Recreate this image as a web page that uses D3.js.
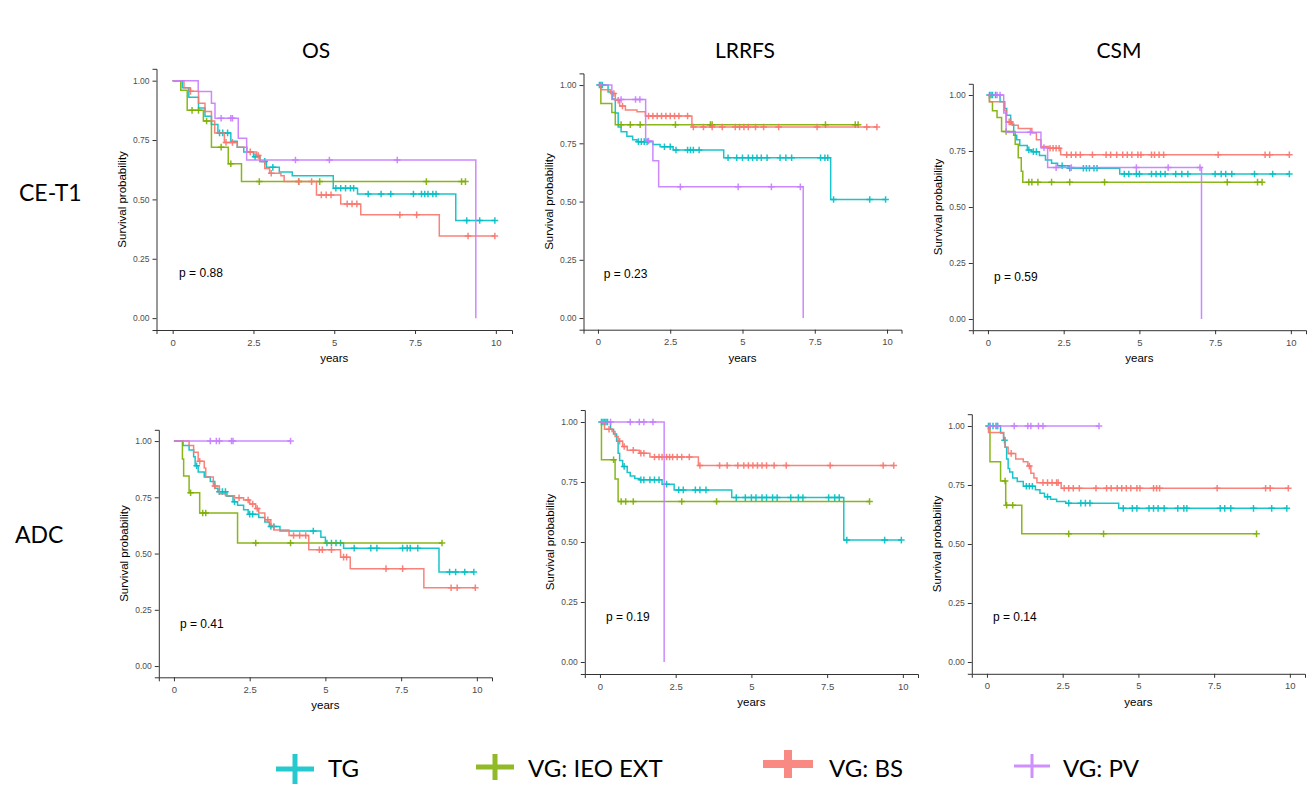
<!DOCTYPE html>
<html>
<head>
  <meta charset="utf-8">
  <title>KM curves</title>
  <script src="https://cdn.jsdelivr.net/npm/d3@7"></script>
  <style>
    body { margin: 0; background: #fff; }
    .tick text { font-family: "Liberation Sans", Arial, sans-serif; fill: #4d4d4d; }
  </style>
</head>
<body>
  <div id="chart"></div>
  <script type="text/javascript">
    var w = 1310;
    var h = 785;

    var groups = ["TG", "VG: IEO EXT", "VG: BS", "VG: PV"];
    var colors = ["#00BFC4", "#7CAE00", "#F8766D", "#C77CFF"];
    var colTitles = ["OS", "LRRFS", "CSM"];
    var rowTitles = ["CE-T1", "ADC"];
    var xTicks = [0, 2.5, 5, 7.5, 10];
    var xTickLabels = ["0", "2.5", "5", "7.5", "10"];
    var yTicks = [0, 0.25, 0.5, 0.75, 1];
    var yTickLabels = ["0.00", "0.25", "0.50", "0.75", "1.00"];
    var pValues = ["p = 0.88", "p = 0.23", "p = 0.59", "p = 0.41", "p = 0.19", "p = 0.14"];

    // steps: [time, survival after drop]; cens: censoring times
    // OS, CE-T1
    var osCeTG = [[0.3,0.97],[0.5,0.93],[0.8,0.885],[1.0,0.85],[1.2,0.815],[1.4,0.78],[1.8,0.745],[2.0,0.72],[2.2,0.70],[2.5,0.68],[2.7,0.66],[2.9,0.635],[3.3,0.615],[3.7,0.6],[4.97,0.547],[5.72,0.523],[8.76,0.411]];
    var osCeTGCens = [1.45,1.55,1.7,2.55,2.85,3.1,5.05,5.2,5.35,5.5,5.6,6.05,6.45,6.75,7.45,7.7,7.8,7.9,8.05,8.15,9.1,9.5,9.97];
    var osCeIeo = [[0.25,0.96],[0.45,0.875],[0.95,0.83],[1.2,0.72],[1.72,0.65],[2.13,0.575]];
    var osCeIeoCens = [0.6,0.8,1.05,1.5,1.8,2.68,3.9,4.55,7.85,8.94,9.06];
    var osCeBs = [[0.35,0.97],[0.55,0.955],[0.8,0.905],[1.0,0.87],[1.2,0.83],[1.3,0.78],[1.6,0.74],[2.0,0.72],[2.3,0.70],[2.6,0.685],[2.7,0.66],[2.85,0.63],[3.0,0.61],[3.35,0.6],[3.45,0.575],[4.45,0.519],[5.2,0.481],[5.82,0.435],[8.25,0.346]];
    var osCeBsCens = [0.55,1.65,1.85,2.4,2.65,3.05,3.9,4.3,4.6,4.75,4.9,5.4,5.55,5.7,7.03,7.55,9.14,9.97];
    var osCePv = [[0.79,0.954],[1.2,0.905],[1.31,0.842],[2.03,0.757],[2.29,0.666],[9.38,0]];
    var osCePvCens = [1.5,1.8,1.85,3.8,4.85,6.95];

    // LRRFS, CE-T1
    var lrCeTG = [[0.35,0.97],[0.5,0.94],[0.6,0.88],[0.7,0.82],[0.8,0.80],[1.0,0.78],[1.2,0.765],[1.35,0.757],[1.9,0.745],[2.15,0.735],[2.6,0.721],[4.35,0.688],[8.05,0.509]];
    var lrCeTGCens = [0.05,0.1,0.15,1.4,1.5,1.6,1.7,2.3,2.5,2.7,3.1,3.2,3.3,3.5,4.5,4.8,5.0,5.2,5.35,5.5,5.65,5.85,6.3,6.5,6.7,7.7,7.85,7.95,8.15,9.4,9.95];
    var lrCeIeo = [[0.1,0.921],[0.48,0.882],[0.6,0.83]];
    var lrCeIeoCens = [0.8,1.12,1.46,2.68,3.89,3.95,7.87,8.9,9.0];
    var lrCeBs = [[0.1,0.98],[0.43,0.964],[0.6,0.935],[0.75,0.91],[0.95,0.893],[1.35,0.885],[1.64,0.867],[3.25,0.82]];
    var lrCeBsCens = [0.55,0.7,0.85,1.75,1.9,2.05,2.2,2.35,2.5,2.65,2.8,3.1,3.3,3.65,3.95,4.3,4.75,4.9,5.05,5.2,5.45,5.73,6.25,7.58,9.3,9.65];
    var lrCePv = [[0.48,0.938],[1.65,0.76],[1.9,0.675],[2.1,0.563],[7.1,0]];
    var lrCePvCens = [0.8,1.3,1.45,1.75,2.85,4.85,6.0,7.0];

    // CSM, CE-T1
    var csCeTG = [[0.4,0.97],[0.55,0.94],[0.62,0.91],[0.75,0.87],[0.85,0.82],[0.95,0.8],[1.05,0.775],[1.3,0.755],[1.45,0.747],[1.7,0.73],[1.9,0.71],[2.1,0.695],[2.3,0.684],[2.65,0.673],[4.35,0.647]];
    var csCeTGCens = [0.05,0.1,0.15,0.25,1.35,1.5,1.6,2.45,2.7,3.15,3.25,3.35,3.5,3.6,4.5,4.65,4.9,5.0,5.4,5.55,5.7,5.85,6.2,6.4,6.6,7.5,7.7,7.85,8.05,8.8,9.4,9.95];
    var csCeIeo = [[0.05,0.97],[0.15,0.93],[0.3,0.9],[0.45,0.837],[0.9,0.78],[1.0,0.72],[1.1,0.66],[1.15,0.611]];
    var csCeIeoCens = [0.6,1.35,1.45,1.65,2.1,2.7,3.85,7.9,8.9,9.05];
    var csCeBs = [[0.05,0.97],[0.55,0.93],[0.6,0.88],[0.8,0.865],[1.0,0.85],[1.45,0.83],[1.6,0.8],[1.75,0.77],[2.0,0.762],[2.4,0.733]];
    var csCeBsCens = [0.7,0.75,2.05,2.15,2.25,2.35,2.6,2.75,2.9,3.05,3.45,3.9,4.05,4.25,4.45,4.6,4.75,4.95,5.05,5.4,5.5,5.65,5.8,7.6,9.15,9.3,9.95];
    var csCePv = [[0.52,0.92],[0.6,0.834],[1.75,0.765],[1.97,0.676],[7.05,0]];
    var csCePvCens = [0.3,0.4,1.4,1.85,2.25,2.75,4.9,5.95,7.0];

    // OS, ADC
    var osAdTG = [[0.3,0.98],[0.5,0.96],[0.65,0.93],[0.7,0.89],[0.8,0.862],[1.0,0.84],[1.2,0.82],[1.35,0.79],[1.45,0.775],[1.75,0.755],[1.95,0.73],[2.1,0.715],[2.3,0.695],[2.45,0.675],[2.8,0.66],[3.0,0.64],[3.15,0.62],[3.5,0.6],[4.85,0.573],[5.0,0.547],[5.6,0.524],[8.75,0.418]];
    var osAdTGCens = [0.75,1.5,1.6,1.7,2.0,2.5,2.6,3.2,3.3,4.6,5.05,5.2,5.35,5.5,5.95,6.5,6.7,7.55,7.7,7.8,8.05,9.1,9.3,9.6,9.9];
    var osAdIeo = [[0.28,0.92],[0.32,0.845],[0.5,0.77],[0.85,0.68],[2.1,0.547]];
    var osAdIeoCens = [0.55,0.95,1.05,2.7,3.85,8.85];
    var osAdBs = [[0.5,0.98],[0.65,0.95],[0.8,0.91],[1.0,0.88],[1.05,0.84],[1.3,0.8],[1.5,0.766],[1.7,0.757],[2.0,0.748],[2.3,0.738],[2.5,0.72],[2.7,0.7],[2.8,0.68],[3.0,0.65],[3.2,0.625],[3.3,0.605],[3.8,0.58],[4.45,0.517],[5.5,0.484],[5.82,0.433],[8.25,0.348]];
    var osAdBsCens = [0.85,1.35,2.15,2.45,2.6,2.75,3.1,3.95,4.15,4.35,4.8,4.9,5.2,5.6,5.7,7.0,7.55,9.15,9.35,9.95];
    var osAdPv = [];
    var osAdPvCens = [1.2,1.4,1.5,1.9,1.95,3.85];

    // LRRFS, ADC
    var lrAdTG = [[0.35,0.97],[0.45,0.95],[0.55,0.92],[0.6,0.87],[0.65,0.84],[0.75,0.815],[0.9,0.79],[1.0,0.775],[1.15,0.765],[1.3,0.759],[2.05,0.741],[2.45,0.717],[4.35,0.685],[8.05,0.508]];
    var lrAdTGCens = [0.05,0.1,0.15,0.2,0.25,0.8,1.35,1.45,1.65,1.8,1.95,2.2,2.6,2.75,3.15,3.3,3.5,4.5,4.8,5.0,5.15,5.35,5.5,5.7,5.85,6.3,6.55,6.7,7.55,7.75,7.9,8.15,9.4,9.95];
    var lrAdIeo = [[0.05,0.843],[0.5,0.763],[0.6,0.669]];
    var lrAdIeoCens = [0.45,0.7,0.85,1.1,2.7,3.85,8.9];
    var lrAdBs = [[0.15,0.97],[0.4,0.96],[0.5,0.94],[0.6,0.92],[0.75,0.898],[0.9,0.882],[1.3,0.87],[1.65,0.854],[3.25,0.819]];
    var lrAdBsCens = [0.3,0.65,0.8,1.1,1.35,1.45,1.8,1.95,2.05,2.2,2.3,2.4,2.55,2.7,2.95,3.3,3.95,4.2,4.55,4.75,4.9,5.05,5.2,5.35,5.5,5.75,6.15,7.6,9.35,9.7];
    var lrAdPv = [[2.12,0]];
    var lrAdPvCens = [0.35,1.0,1.3,1.45,1.75];

    // CSM, ADC
    var csAdTG = [[0.45,0.97],[0.55,0.94],[0.6,0.91],[0.65,0.86],[0.7,0.82],[0.75,0.805],[0.85,0.78],[1.0,0.765],[1.2,0.745],[1.6,0.73],[1.75,0.715],[1.9,0.7],[2.1,0.69],[2.3,0.68],[2.6,0.673],[4.35,0.651]];
    var csAdTGCens = [0.05,0.1,0.2,0.3,0.35,0.58,1.3,1.4,1.5,2.0,2.7,3.1,3.25,3.4,4.5,4.8,4.95,5.35,5.5,5.65,5.85,6.3,6.5,6.6,7.7,7.85,8.05,8.8,9.4,9.9];
    var csAdIeo = [[0.1,0.849],[0.45,0.767],[0.62,0.664],[1.15,0.543]];
    var csAdIeoCens = [0.6,0.65,0.85,2.7,3.85,8.9];
    var csAdBs = [[0.05,0.972],[0.55,0.95],[0.6,0.91],[0.7,0.884],[0.95,0.86],[1.2,0.849],[1.35,0.83],[1.45,0.8],[1.55,0.78],[1.65,0.76],[2.45,0.736]];
    var csAdBsCens = [0.8,1.4,1.85,2.0,2.15,2.3,2.35,2.55,2.7,2.85,3.05,3.6,3.95,4.1,4.3,4.45,4.6,4.75,4.95,5.05,5.5,5.6,5.7,7.6,9.2,9.35,9.95];
    var csAdPv = [];
    var csAdPvCens = [0.1,0.35,0.9,1.35,1.45,1.7,1.85,3.7];

    // panel boxes (pixel extents of each plotting area)
    var panels = [
      { left: 156.5, right: 512, top: 68.8, bottom: 330, steps: [osCeTG, osCeIeo, osCeBs, osCePv], cens: [osCeTGCens, osCeIeoCens, osCeBsCens, osCePvCens] },
      { left: 583.5, right: 901.5, top: 73.4, bottom: 329.7, steps: [lrCeTG, lrCeIeo, lrCeBs, lrCePv], cens: [lrCeTGCens, lrCeIeoCens, lrCeBsCens, lrCePvCens] },
      { left: 972.8, right: 1306, top: 83.8, bottom: 330.2, steps: [csCeTG, csCeIeo, csCeBs, csCePv], cens: [csCeTGCens, csCeIeoCens, csCeBsCens, csCePvCens] },
      { left: 158.8, right: 492, top: 429.8, bottom: 677.3, steps: [osAdTG, osAdIeo, osAdBs, osAdPv], cens: [osAdTGCens, osAdIeoCens, osAdBsCens, osAdPvCens] },
      { left: 584.8, right: 918, top: 410, bottom: 674, steps: [lrAdTG, lrAdIeo, lrAdBs, lrAdPv], cens: [lrAdTGCens, lrAdIeoCens, lrAdBsCens, lrAdPvCens] },
      { left: 971.8, right: 1305, top: 414.2, bottom: 673.8, steps: [csAdTG, csAdIeo, csAdBs, csAdPv], cens: [csAdTGCens, csAdIeoCens, csAdBsCens, csAdPvCens] }
    ];

    var svg = d3.select("#chart")
      .append("svg")
      .attr("width", w)
      .attr("height", h);

    function survAt(steps, t) {
      var s = 1;
      steps.forEach(function(d) { if (d[0] <= t) s = d[1]; });
      return s;
    }

    panels.forEach(function(p, pi) {
      var x = d3.scaleLinear().domain([-0.5, 10.5]).range([p.left, p.right]);
      var y = d3.scaleLinear().domain([-0.05, 1.05]).range([p.bottom, p.top]);
      var g = svg.append("g");

      var xAxis = g.append("g")
        .attr("transform", "translate(0," + p.bottom + ")")
        .call(d3.axisBottom(x).tickValues(xTicks).tickSize(4).tickFormat(function(d, i) { return xTickLabels[i]; }));
      xAxis.selectAll("text").attr("font-size", 9.5).attr("dy", "0.9em");
      var yAxis = g.append("g")
        .attr("transform", "translate(" + p.left + ",0)")
        .call(d3.axisLeft(y).tickValues(yTicks).tickSize(4).tickFormat(function(d, i) { return yTickLabels[i]; }));
      yAxis.selectAll("text").attr("font-size", 8.5);
      g.selectAll(".domain, .tick line").attr("stroke", "#333").attr("stroke-width", 1);

      g.append("text")
        .attr("x", (p.left + p.right) / 2)
        .attr("y", p.bottom + 32)
        .attr("text-anchor", "middle")
        .attr("font-family", "Liberation Sans, Arial, sans-serif")
        .attr("font-size", 11.5)
        .text("years");
      g.append("text")
        .attr("transform", "translate(" + (p.left - 31) + "," + ((p.top + p.bottom) / 2) + ") rotate(-90)")
        .attr("text-anchor", "middle")
        .attr("font-family", "Liberation Sans, Arial, sans-serif")
        .attr("font-size", 11.5)
        .text("Survival probability");

      var line = d3.line()
        .curve(d3.curveStepAfter)
        .x(function(d) { return x(d[0]); })
        .y(function(d) { return y(d[1]); });

      groups.forEach(function(name, gi) {
        var steps = p.steps[gi];
        var cens = p.cens[gi];
        var pts = [[0, 1]].concat(steps);
        var last = pts[pts.length - 1];
        var end = Math.max(last[0], d3.max(cens) || 0);
        if (last[1] > 0 && end > last[0]) pts.push([end, last[1]]);

        g.append("path")
          .datum(pts)
          .attr("d", line)
          .attr("fill", "none")
          .attr("stroke", colors[gi])
          .attr("stroke-width", 1.5)
          .attr("stroke-opacity", 0.9);

        g.selectAll(".c" + gi)
          .data(cens)
          .enter()
          .append("path")
          .attr("class", "c" + gi)
          .attr("transform", function(d) { return "translate(" + x(d) + "," + y(survAt(steps, d)) + ")"; })
          .attr("d", "M-3.3,0H3.3M0,-3.3V3.3")
          .attr("stroke", colors[gi])
          .attr("stroke-width", 1.5)
          .attr("stroke-opacity", 0.9);
      });

      g.append("text")
        .attr("x", x(0.2))
        .attr("y", y(0.19))
        .attr("dy", "0.35em")
        .attr("font-family", "Liberation Sans, Arial, sans-serif")
        .attr("font-size", 12)
        .text(pValues[pi]);
    });

    // column and row titles
    var colX = [316, 745, 1119];
    svg.selectAll(".coltitle")
      .data(colTitles)
      .enter()
      .append("text")
      .attr("x", function(d, i) { return colX[i]; })
      .attr("y", 58)
      .attr("text-anchor", "middle")
      .attr("font-family", "Lato, sans-serif")
      .attr("font-size", 21)
      .text(function(d) { return d; });

    var rowY = [193, 535];
    var rowX = [19, 15];
    svg.selectAll(".rowtitle")
      .data(rowTitles)
      .enter()
      .append("text")
      .attr("x", function(d, i) { return rowX[i]; })
      .attr("y", function(d, i) { return rowY[i]; })
      .attr("dy", "0.36em")
      .attr("font-family", "Lato, sans-serif")
      .attr("font-size", 23)
      .text(function(d) { return d; });

    // legend
    var legX = [295, 495, 788, 1032];
    var legY = [769, 767, 764, 766];
    var legHalfW = [19, 19, 25, 18];
    var legHalfH = [15, 13, 14, 12];
    var legStroke = [5, 5, 8, 3];
    var legText = [328, 528, 829, 1063];

    groups.forEach(function(name, i) {
      svg.append("path")
        .attr("d", "M" + (legX[i] - legHalfW[i]) + "," + legY[i] + "H" + (legX[i] + legHalfW[i]) +
                   "M" + legX[i] + "," + (legY[i] - legHalfH[i]) + "V" + (legY[i] + legHalfH[i]))
        .attr("stroke", colors[i])
        .attr("stroke-width", legStroke[i])
        .attr("stroke-opacity", 0.85);
      svg.append("text")
        .attr("x", legText[i])
        .attr("y", 768)
        .attr("dy", "0.36em")
        .attr("font-family", "Lato, sans-serif")
        .attr("font-size", 24)
        .text(name);
    });
  </script>
</body>
</html>
